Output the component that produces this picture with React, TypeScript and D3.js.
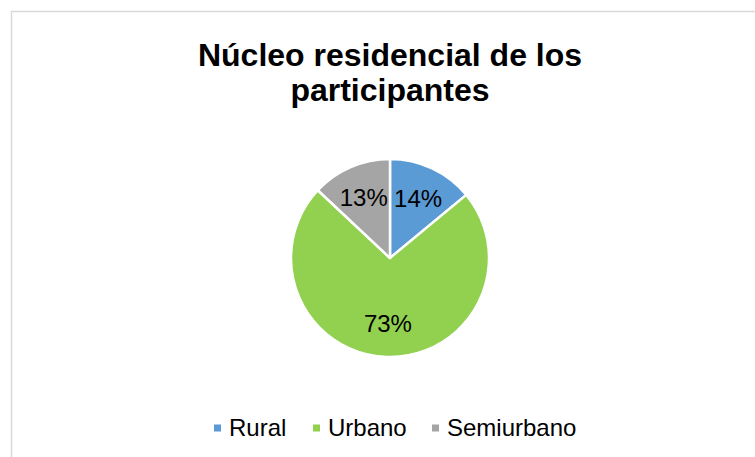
import React, { useEffect, useRef } from "react";
import * as d3 from "d3";

const categories = ["Rural", "Urbano", "Semiurbano"];
const values = [14, 73, 13];
const colors = ["#5b9bd5", "#92d050", "#a5a5a5"];
const titleLines = ["Núcleo residencial de los", "participantes"];

const App = () => {
  const svgRef = useRef<SVGSVGElement>(null);

  useEffect(() => {
    const width = 755,
      height = 457;
    const font = "'Liberation Sans', Arial, sans-serif";

    const svg = d3.select(svgRef.current);
    svg.selectAll("*").remove();
    svg.attr("width", width).attr("height", height);

    svg
      .append("rect")
      .attr("width", width)
      .attr("height", height)
      .attr("fill", "#fff");

    // chart border (runs off the right and bottom edges)
    svg
      .append("rect")
      .attr("x", 11.5)
      .attr("y", 11.5)
      .attr("width", width + 20)
      .attr("height", height + 20)
      .attr("fill", "none")
      .attr("stroke", "#d9d9d9")
      .attr("stroke-width", 1.5);

    // title
    svg
      .append("g")
      .selectAll("text")
      .data(titleLines)
      .join("text")
      .attr("x", 390)
      .attr("y", (d, i) => 66 + i * 35)
      .attr("text-anchor", "middle")
      .attr("font-family", font)
      .attr("font-weight", "bold")
      .attr("font-size", 32)
      .attr("fill", "#000")
      .text((d) => d);

    // pie
    const cx = 390,
      cy = 258,
      r = 99;
    const pie = d3
      .pie<number>()
      .sort(null)
      .value((d) => d);
    const arcs = pie(values);
    const arc = d3.arc<d3.PieArcDatum<number>>().innerRadius(0).outerRadius(r);
    const labelArc = d3
      .arc<d3.PieArcDatum<number>>()
      .innerRadius(66)
      .outerRadius(66);

    const g = svg.append("g").attr("transform", `translate(${cx},${cy})`);
    g.selectAll("path")
      .data(arcs)
      .join("path")
      .attr("d", arc)
      .attr("fill", (d, i) => colors[i])
      .attr("stroke", "#fff")
      .attr("stroke-width", 2.5)
      .attr("stroke-linejoin", "round");

    const total = d3.sum(values);
    g.selectAll("text")
      .data(arcs)
      .join("text")
      .attr("transform", (d) => {
        const [x, y] = labelArc.centroid(d);
        return `translate(${x},${y})`;
      })
      .attr("text-anchor", "middle")
      .attr("dy", "0.35em")
      .attr("font-family", font)
      .attr("font-size", 24)
      .attr("fill", "#000")
      .text((d) => `${Math.round((d.value / total) * 100)}%`);

    // legend
    const legendX = [214, 313, 432];
    const legend = svg
      .append("g")
      .selectAll("g")
      .data(categories)
      .join("g")
      .attr("transform", (d, i) => `translate(${legendX[i]},428)`);
    legend
      .append("rect")
      .attr("x", 0)
      .attr("y", -3.5)
      .attr("width", 7)
      .attr("height", 7)
      .attr("fill", (d, i) => colors[i]);
    legend
      .append("text")
      .attr("x", 15)
      .attr("dy", "0.35em")
      .attr("font-family", font)
      .attr("font-size", 24)
      .attr("fill", "#000")
      .text((d) => d);
  }, []);

  return (
    <svg
      ref={svgRef}
      style={{ position: "absolute", left: 0, top: 0, display: "block" }}
    ></svg>
  );
};

export default App;
